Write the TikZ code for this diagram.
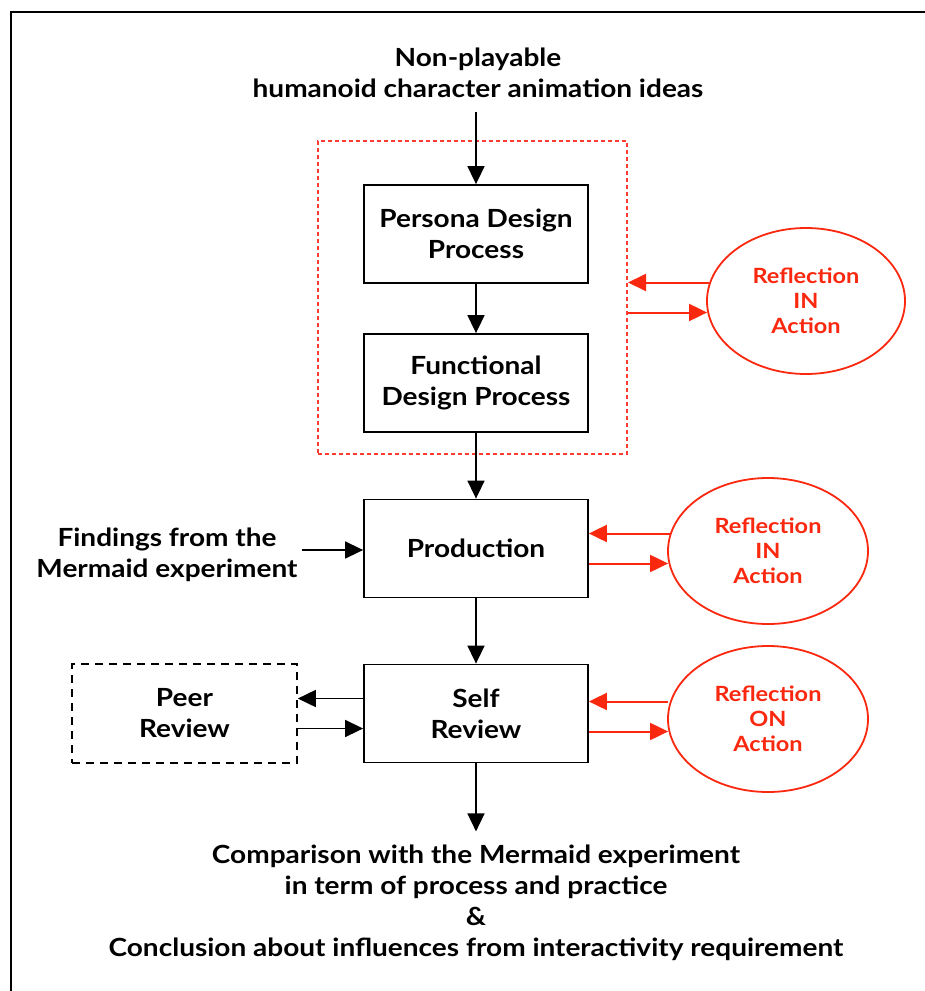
\documentclass[tikz,border=0pt]{standalone}
\usepackage{fontspec}
\setmainfont{Lato}[FakeStretch=1.12]
\usetikzlibrary{arrows.meta,calc,shapes.geometric}
\definecolor{refl}{RGB}{250,40,15}
\definecolor{grpred}{RGB}{250,60,50}
\begin{document}
\begin{tikzpicture}[x=1pt,y=-1pt,
  txt/.style={font=\fontsize{25}{31}\selectfont\bfseries, align=center, inner sep=0pt},
  stepbox/.style={txt, draw, line width=1.8pt, minimum width=224pt, minimum height=98pt},
  peerbox/.style={txt, draw, line width=1.6pt, dash pattern=on 8pt off 6pt, minimum width=225pt, minimum height=99pt},
  reflect/.style={font=\fontsize{21}{25}\selectfont\bfseries, align=center, text=refl, draw=refl, line width=1.8pt, ellipse, minimum width=198pt, minimum height=146pt, inner sep=0pt},
  flow/.style={line width=1.6pt, -{Triangle[length=18pt,width=17pt]}},
  rflow/.style={draw=refl, line width=2pt, -{Triangle[length=18pt,width=17pt]}, refl},
]
\useasboundingbox (0,0) rectangle (925,991);
% outer frame (top and left edges only)
\draw[line width=2.5pt] (11,991) -- (11,12) -- (925,12);

% source and result texts
\node[txt] (ideas) at (478,73) {Non-playable\\humanoid character animation ideas};
\node[txt] (findings) at (167,555) {Findings from the\\Mermaid experiment};
\node[txt] (result) at (476,903) {Comparison with the Mermaid experiment\\in term of process and practice\\\&\\Conclusion about influences from interactivity requirement};

% design group
\node[draw=grpred, line width=2pt, dash pattern=on 4pt off 3pt, minimum width=309pt, minimum height=313pt, inner sep=0pt] (grp) at (472.5,297.5) {};

% process steps
\node[stepbox] (persona) at (476,234) {Persona Design\\Process};
\node[stepbox] (functional) at (476,383) {Functional\\Design Process};
\node[stepbox] (production) at (476,548.5) {Production};
\node[stepbox] (self) at (476,713.5) {Self\\Review};
\node[peerbox] (peer) at (184.5,713.5) {Peer\\Review};

% reflection loops
\node[reflect] (r1) at (806,301) {Reflection\\IN\\Action};
\node[reflect, minimum width=200pt] (r2) at (768,551) {Reflection\\IN\\Action};
\node[reflect, minimum width=200pt] (r3) at (768,719) {Reflection\\ON\\Action};

% main flow
\draw[flow] ($(persona.north |- ideas.south)+(0,14)$) -- (persona.north);
\draw[flow] (persona) -- (functional);
\draw[flow] (functional) -- (production);
\draw[flow] (production) -- (self);
\draw[flow] (self.south) -- ($(self.south)+(0,68)$) coordinate (out);
\draw[flow] ($(findings.east)+(4,-5)$) -- (production.west |- {$(findings.east)+(0,-5)$});

% peer review exchange
\draw[flow] ($(self.west)+(0,-15)$) -- ($(peer.east)+(0,-15)$);
\draw[flow] ($(peer.east)+(0,15)$) -- ($(self.west)+(0,15)$);

% reflection exchanges
\draw[rflow] ($(r1.west |- grp.east)+(3,-15)$) -- ($(grp.east)+(0,-15)$);
\draw[rflow] ($(grp.east)+(0,15)$) -- ($(r1.west |- grp.east)+(1,15)$);
\draw[rflow] ($(r2.west |- production.east)+(3,-15)$) -- ($(production.east)+(0,-15)$);
\draw[rflow] ($(production.east)+(0,15)$) -- ($(r2.west |- production.east)+(1,15)$);
\draw[rflow] ($(r3.west |- self.east)+(1,-12)$) -- ($(self.east)+(0,-12)$);
\draw[rflow] ($(self.east)+(0,18)$) -- ($(r3.west |- self.east)+(1,18)$);
\end{tikzpicture}
\end{document}
